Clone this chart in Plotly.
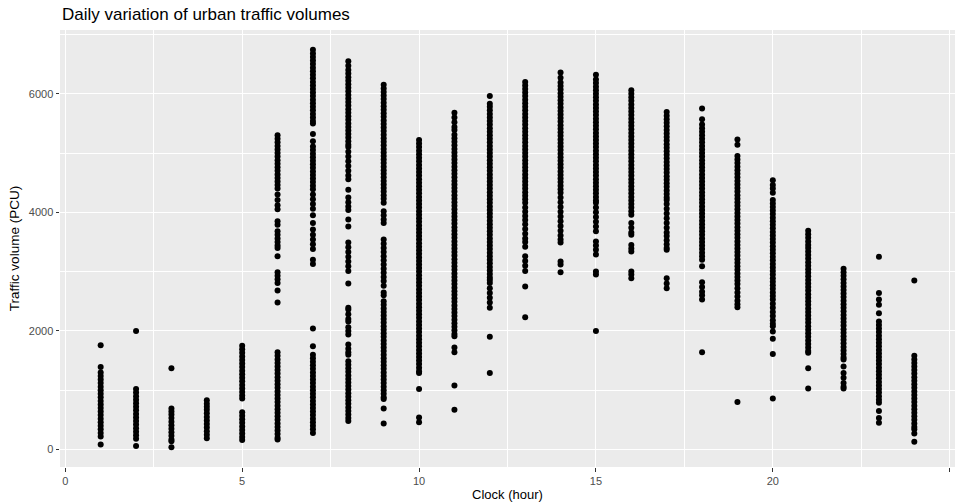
import plotly.graph_objects as go

# Hourly traffic counts (PCU), one list per clock hour
h01 = [1760, 1390, 1300, 1240, 1180, 1120, 1060, 1000, 940, 880, 820, 760, 700, 640, 580,
       520, 460, 400, 340, 280, 220, 85]
h02 = [2000, 1020, 960, 900, 840, 780, 720, 660, 600, 540, 480, 420, 360, 300, 240, 180, 60]
h03 = [1370, 690, 640, 590, 530, 470, 410, 350, 290, 230, 170, 140, 40]
h04 = [830, 770, 720, 670, 610, 550, 490, 430, 370, 310, 250, 190]
h05 = [1750, 1690, 1630, 1570, 1510, 1450, 1390, 1330, 1270, 1210, 1150, 1090, 1030, 970,
       910, 860, 630, 570, 510, 450, 390, 330, 270, 210, 160]
h06 = [5300, 5240, 5180, 5120, 5060, 5000, 4940, 4880, 4820, 4760, 4700, 4640, 4580, 4520,
       4460, 4400, 4300, 4210, 4120, 4050, 3850, 3790, 3680, 3620, 3560, 3500, 3440, 3400,
       3260, 2990, 2930, 2870, 2810, 2680, 2480, 1640, 1580, 1520, 1460, 1400, 1340, 1280,
       1220, 1160, 1100, 1040, 980, 920, 860, 800, 740, 680, 620, 560, 500, 440, 380, 320,
       260, 200, 170]
h07 = [6740, 6680, 6620, 6560, 6500, 6440, 6380, 6320, 6260, 6200, 6140, 6080, 6020, 5960,
       5900, 5840, 5780, 5720, 5660, 5600, 5540, 5500, 5320, 5200, 5110, 5050, 4990, 4930,
       4870, 4810, 4750, 4690, 4630, 4570, 4510, 4450, 4390, 4300, 4220, 4140, 4060, 3950,
       3820, 3710, 3620, 3540, 3460, 3380, 3200, 3130, 2040, 1740, 1600, 1540, 1480, 1420,
       1360, 1300, 1240, 1180, 1120, 1060, 1000, 940, 880, 820, 760, 700, 640, 580, 520,
       460, 400, 340, 280]
h08 = [6550, 6470, 6400, 6340, 6280, 6220, 6160, 6100, 6040, 5980, 5920, 5860, 5800, 5740,
       5680, 5620, 5560, 5500, 5440, 5380, 5320, 5260, 5200, 5140, 5100, 5020, 4940, 4860,
       4780, 4700, 4620, 4560, 4380, 4250, 4170, 4100, 4040, 3880, 3760, 3490, 3410, 3330,
       3250, 3170, 3090, 3010, 2800, 2390, 2360, 2280, 2200, 2160, 2060, 2000, 1940, 1770,
       1700, 1640, 1600, 1490, 1430, 1370, 1310, 1250, 1190, 1130, 1070, 1010, 950, 890,
       830, 770, 710, 650, 590, 530, 480]
h09 = [6150, 6090, 6030, 5970, 5910, 5850, 5790, 5730, 5670, 5610, 5550, 5490, 5430, 5370,
       5310, 5250, 5190, 5130, 5070, 5010, 4950, 4890, 4830, 4770, 4710, 4650, 4590, 4530,
       4470, 4410, 4350, 4290, 4230, 4160, 4020, 3950, 3880, 3820, 3540, 3470, 3400, 3330,
       3260, 3190, 3120, 3050, 2980, 2910, 2840, 2760, 2650, 2600, 2500, 2440, 2380, 2320,
       2260, 2200, 2140, 2080, 2020, 1960, 1900, 1840, 1780, 1720, 1660, 1600, 1540, 1480,
       1420, 1360, 1300, 1240, 1180, 1120, 1060, 1000, 940, 880, 850, 690, 440]
h10 = [5220, 5160, 5100, 5040, 4980, 4920, 4860, 4800, 4740, 4680, 4620, 4560, 4500, 4440,
       4380, 4320, 4260, 4200, 4140, 4080, 4020, 3960, 3900, 3840, 3780, 3720, 3660, 3600,
       3540, 3480, 3420, 3360, 3300, 3240, 3180, 3120, 3060, 3000, 2940, 2880, 2820, 2760,
       2700, 2640, 2580, 2520, 2460, 2400, 2340, 2280, 2220, 2160, 2100, 2040, 1980, 1920,
       1860, 1800, 1740, 1680, 1620, 1560, 1500, 1440, 1380, 1320, 1290, 1020, 540, 460]
h11 = [5680, 5600, 5520, 5440, 5390, 5310, 5250, 5190, 5130, 5070, 5010, 4950, 4890, 4830,
       4770, 4710, 4650, 4590, 4530, 4470, 4410, 4350, 4290, 4230, 4170, 4110, 4050, 3990,
       3930, 3870, 3810, 3750, 3690, 3630, 3570, 3510, 3450, 3390, 3330, 3270, 3210, 3150,
       3090, 3030, 2970, 2910, 2850, 2790, 2730, 2670, 2610, 2550, 2490, 2430, 2370, 2310,
       2250, 2190, 2130, 2070, 2010, 1950, 1910, 1720, 1640, 1080, 670]
h12 = [5960, 5830, 5780, 5720, 5660, 5600, 5540, 5480, 5420, 5360, 5300, 5240, 5180, 5120,
       5060, 5000, 4940, 4880, 4820, 4760, 4700, 4640, 4580, 4520, 4460, 4400, 4340, 4280,
       4220, 4160, 4100, 4040, 3980, 3920, 3860, 3800, 3740, 3680, 3620, 3560, 3500, 3440,
       3380, 3320, 3260, 3200, 3140, 3080, 3020, 2960, 2900, 2860, 2810, 2720, 2640, 2560,
       2480, 2390, 1900, 1290]
h13 = [6200, 6140, 6080, 6020, 5960, 5900, 5840, 5780, 5720, 5660, 5600, 5540, 5480, 5420,
       5360, 5300, 5240, 5180, 5120, 5060, 5000, 4940, 4880, 4820, 4760, 4700, 4640, 4580,
       4520, 4460, 4400, 4340, 4280, 4220, 4160, 4080, 4010, 3940, 3870, 3800, 3720, 3640,
       3560, 3500, 3420, 3260, 3180, 3100, 3010, 2750, 2230]
h14 = [6360, 6270, 6190, 6130, 6070, 6010, 5950, 5890, 5830, 5770, 5710, 5650, 5590, 5530,
       5470, 5410, 5350, 5290, 5230, 5170, 5110, 5050, 4990, 4930, 4870, 4810, 4750, 4690,
       4630, 4570, 4510, 4450, 4390, 4330, 4250, 4170, 4090, 4010, 3930, 3850, 3770, 3690,
       3610, 3540, 3490, 3170, 3120, 2990]
h15 = [6320, 6240, 6180, 6120, 6060, 6000, 5940, 5880, 5820, 5760, 5700, 5640, 5580, 5520,
       5460, 5400, 5340, 5280, 5220, 5160, 5100, 5040, 4980, 4920, 4860, 4800, 4740, 4680,
       4620, 4560, 4500, 4440, 4380, 4320, 4260, 4200, 4160, 4080, 4000, 3920, 3840, 3760,
       3680, 3510, 3440, 3370, 3290, 3000, 2950, 2000]
h16 = [6060, 6000, 5940, 5880, 5820, 5760, 5700, 5640, 5580, 5520, 5460, 5400, 5340, 5280,
       5220, 5160, 5100, 5040, 4980, 4920, 4860, 4800, 4740, 4680, 4620, 4560, 4500, 4440,
       4380, 4320, 4260, 4200, 4140, 4080, 4020, 3960, 3820, 3740, 3660, 3620, 3450, 3390,
       3340, 3000, 2950, 2890]
h17 = [5690, 5630, 5570, 5510, 5450, 5390, 5330, 5270, 5210, 5150, 5090, 5030, 4970, 4910,
       4850, 4790, 4730, 4670, 4610, 4550, 4490, 4430, 4370, 4310, 4250, 4210, 4140, 4060,
       3980, 3900, 3820, 3740, 3660, 3600, 3530, 3460, 3400, 3370, 2890, 2800, 2720]
h18 = [5750, 5570, 5480, 5420, 5360, 5300, 5240, 5180, 5120, 5060, 5000, 4940, 4880, 4820,
       4760, 4700, 4640, 4580, 4520, 4460, 4400, 4340, 4280, 4220, 4160, 4100, 4040, 3980,
       3920, 3860, 3800, 3740, 3680, 3620, 3560, 3500, 3440, 3380, 3320, 3260, 3200, 3090,
       2820, 2740, 2660, 2600, 2530, 1640]
h19 = [5230, 5140, 4950, 4890, 4830, 4770, 4710, 4650, 4590, 4530, 4470, 4410, 4350, 4290,
       4230, 4170, 4110, 4050, 3990, 3930, 3870, 3810, 3750, 3690, 3630, 3570, 3510, 3450,
       3390, 3330, 3270, 3210, 3150, 3090, 3030, 2970, 2910, 2850, 2790, 2720, 2650, 2580,
       2510, 2450, 2400, 800]
h20 = [4540, 4460, 4400, 4330, 4210, 4150, 4090, 4030, 3970, 3910, 3850, 3790, 3730, 3670,
       3610, 3550, 3490, 3430, 3370, 3310, 3250, 3190, 3130, 3070, 3010, 2950, 2890, 2830,
       2770, 2710, 2650, 2590, 2530, 2460, 2390, 2320, 2250, 2180, 2120, 2080, 1990, 1870,
       1610, 860]
h21 = [3690, 3630, 3570, 3510, 3450, 3400, 3340, 3280, 3220, 3160, 3100, 3040, 2980, 2920,
       2860, 2800, 2740, 2680, 2620, 2560, 2500, 2440, 2380, 2320, 2260, 2200, 2140, 2080,
       2020, 1960, 1900, 1840, 1780, 1720, 1660, 1630, 1370, 1030]
h22 = [3050, 2990, 2930, 2870, 2810, 2750, 2690, 2630, 2570, 2510, 2450, 2390, 2330, 2270,
       2210, 2150, 2090, 2030, 1970, 1910, 1850, 1790, 1730, 1670, 1610, 1550, 1520, 1400,
       1290, 1210, 1120, 1060, 1030]
h23 = [3250, 2640, 2530, 2440, 2300, 2160, 2100, 2040, 1980, 1920, 1860, 1800, 1740, 1680,
       1620, 1560, 1500, 1440, 1380, 1320, 1260, 1200, 1140, 1080, 1020, 960, 900, 840, 790,
       650, 530, 450]
h24 = [2850, 1580, 1520, 1460, 1400, 1340, 1280, 1220, 1160, 1100, 1040, 980, 920, 860, 800,
       740, 680, 620, 560, 500, 440, 380, 340, 270, 130]

hours = list(range(1, 25))
volumes_by_hour = [h01, h02, h03, h04, h05, h06, h07, h08, h09, h10, h11, h12,
                   h13, h14, h15, h16, h17, h18, h19, h20, h21, h22, h23, h24]

x_ticks = [0, 5, 10, 15, 20, 25]
y_ticks = [0, 2000, 4000, 6000]

xs, ys = [], []
for hr, vals in zip(hours, volumes_by_hour):
    xs.extend([hr] * len(vals))
    ys.extend(vals)

fig = go.Figure(go.Scatter(
    x=xs, y=ys, mode="markers",
    marker=dict(color="black", size=6, line=dict(width=0)),
    hoverinfo="x+y",
))

# ggplot-like expanded ranges (5% on each side)
ymin, ymax = min(ys), max(ys)
ypad = 0.05 * (ymax - ymin)
xpad = 0.05 * (max(hours) - min(hours))

FONT = "Liberation Sans, Arial, sans-serif"
axis_common = dict(
    showgrid=True, gridcolor="white", gridwidth=1.1,
    zeroline=False, showline=False,
    ticks="outside", ticklen=3.5, tickwidth=1, tickcolor="#333333",
    tickfont=dict(family=FONT, size=11, color="#4D4D4D"),
)

fig.update_layout(
    template="none",
    width=955, height=504,
    margin=dict(l=60, r=0, t=30, b=37),
    paper_bgcolor="white", plot_bgcolor="#EBEBEB",
    showlegend=False,
    font=dict(family=FONT, color="black"),
    title=dict(text="Daily variation of urban traffic volumes",
               x=62 / 955, xref="container", xanchor="left",
               y=1 - 14 / 504, yref="container", yanchor="middle",
               font=dict(family=FONT, size=17, color="black")),
    xaxis=dict(
        range=[min(hours) - xpad, max(hours) + xpad],
        tickvals=x_ticks, ticktext=[str(v) for v in x_ticks],
        minor=dict(dtick=2.5, tick0=0, showgrid=True, gridcolor="white", gridwidth=0.5, ticks=""),
        title=dict(text="Clock (hour)", font=dict(family=FONT, size=13, color="black"), standoff=4),
        **axis_common,
    ),
    yaxis=dict(
        range=[ymin - ypad, ymax + ypad],
        tickvals=y_ticks, ticktext=[str(v) for v in y_ticks],
        minor=dict(dtick=1000, tick0=0, showgrid=True, gridcolor="white", gridwidth=0.5, ticks=""),
        title=dict(text="Traffic volume (PCU)", font=dict(family=FONT, size=13.5, color="black"), standoff=6),
        **axis_common,
    ),
)

fig.write_html("out.html")
